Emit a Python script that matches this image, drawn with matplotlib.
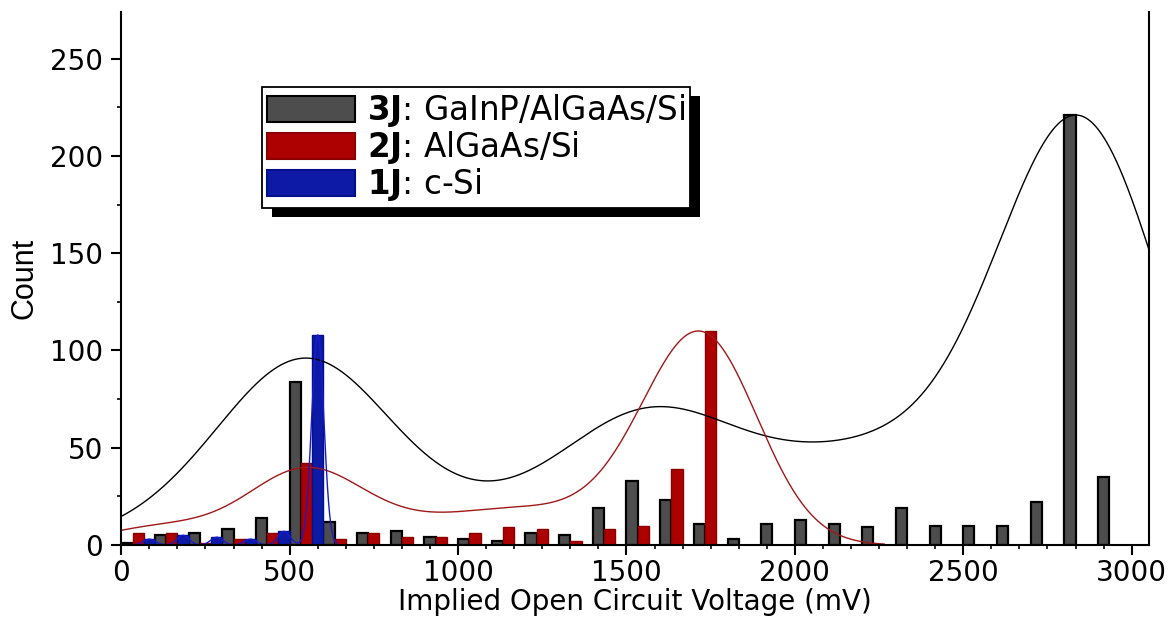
import numpy as np
import matplotlib
matplotlib.use('Agg')
import matplotlib.pyplot as plt
from matplotlib.patches import Rectangle
from matplotlib.ticker import MultipleLocator

# histogram bins (left edges, mV), bin width 100 mV
bin_left = np.arange(0, 3000, 100)

count_3j = [1, 5, 6, 8, 14, 84, 12, 6, 7, 4, 3, 2, 6, 5, 19, 33, 23, 11, 3, 11,
            13, 11, 9, 19, 10, 10, 10, 22, 221, 35]
count_2j = [6, 6, 1, 3, 6, 42, 3, 6, 4, 4, 6, 9, 8, 2, 8, 10, 39, 110, 0, 0,
            0, 0, 0, 0, 0, 0, 0, 0, 0, 0]
count_1j = [3, 5, 4, 3, 7, 108, 0, 0, 0, 0, 0, 0, 0, 0, 0, 0, 0, 0, 0, 0,
            0, 0, 0, 0, 0, 0, 0, 0, 0, 0]

labels = [r'$\mathbf{3J}$: GaInP/AlGaAs/Si', r'$\mathbf{2J}$: AlGaAs/Si', r'$\mathbf{1J}$: c-Si']

bar_w = 100 / 3
series = [
    # counts, fill, edge, curve colour, kernel bandwidth, kernel position offset
    (count_3j, '#4d4d4d', '#000000', '#000000', 236, 50),
    (count_2j, '#ad0000', '#8a0000', '#a01818', 161, 50),
    (count_1j, '#0c1aa6', '#00108a', '#1a1acc', 18, 83.3),
]


def smooth(pos, counts, bw, xs):
    counts = np.asarray(counts, float)
    d = (counts[:, None] * np.exp(-0.5 * ((xs[None, :] - pos[:, None]) / bw) ** 2)).sum(0)
    return d / d.max() * counts.max()


plt.rcParams['font.family'] = 'DejaVu Sans'
fig = plt.figure(figsize=(11.72, 6.22), dpi=100)
ax = fig.add_axes([0.1035, 0.1238, 0.877, 0.857])

for i, (cnt, fc, ec, lc, bw, off) in enumerate(series):
    cnt = np.asarray(cnt)
    m = cnt > 0
    ax.bar(bin_left[m] + i * bar_w, cnt[m], width=bar_w, align='edge',
           color=fc, edgecolor=ec, linewidth=1.6 if i == 0 else 1.0)
    pos = bin_left[m] + off
    xs = np.linspace(max(pos.min() - 3.2 * bw, -200), pos.max() + 3.2 * bw, 1500)
    ax.plot(xs, smooth(pos, cnt[m], bw, xs), color=lc, lw=1.0)

ax.set_xlim(0, 3052)
ax.set_ylim(0, 274)
ax.xaxis.set_major_locator(MultipleLocator(500))
ax.xaxis.set_minor_locator(MultipleLocator(500 / 6))
ax.yaxis.set_major_locator(MultipleLocator(50))
ax.yaxis.set_minor_locator(MultipleLocator(25))
ax.tick_params(which='major', direction='out', length=7, width=1.5, labelsize=20)
ax.tick_params(which='minor', direction='out', length=3, width=1.2)
ax.tick_params(axis='y', pad=6)
ax.tick_params(axis='x', pad=3)
ax.spines['top'].set_visible(False)
for s in ['left', 'bottom', 'right']:
    ax.spines[s].set_linewidth(1.5)

ax.set_xlabel('Implied Open Circuit Voltage (mV)', fontsize=20, labelpad=1)
ax.set_ylabel('Count', fontsize=22, family=['Liberation Sans Narrow', 'Liberation Sans'], labelpad=8)

handles = [Rectangle((0, 0), 1, 1, facecolor=fc, edgecolor=ec, lw=1.5) for _, fc, ec, *_ in series]
leg = ax.legend(handles, labels, loc='upper left', bbox_to_anchor=(0.137, 0.859),
                borderaxespad=0, fontsize=23.5, handlelength=2.7, handleheight=0.85,
                handletextpad=0.35, labelspacing=0.0, borderpad=0.15,
                fancybox=False, framealpha=1, edgecolor='black')
leg.get_frame().set_linewidth(1.3)

fig.canvas.draw()
bb = leg.get_frame().get_window_extent()
ax.add_patch(Rectangle((bb.x0 + 10, bb.y0 - 9), bb.width, bb.height, transform=None,
                       facecolor='black', edgecolor='none', zorder=4.9, clip_on=False))

fig.savefig('out.png', dpi=100)
